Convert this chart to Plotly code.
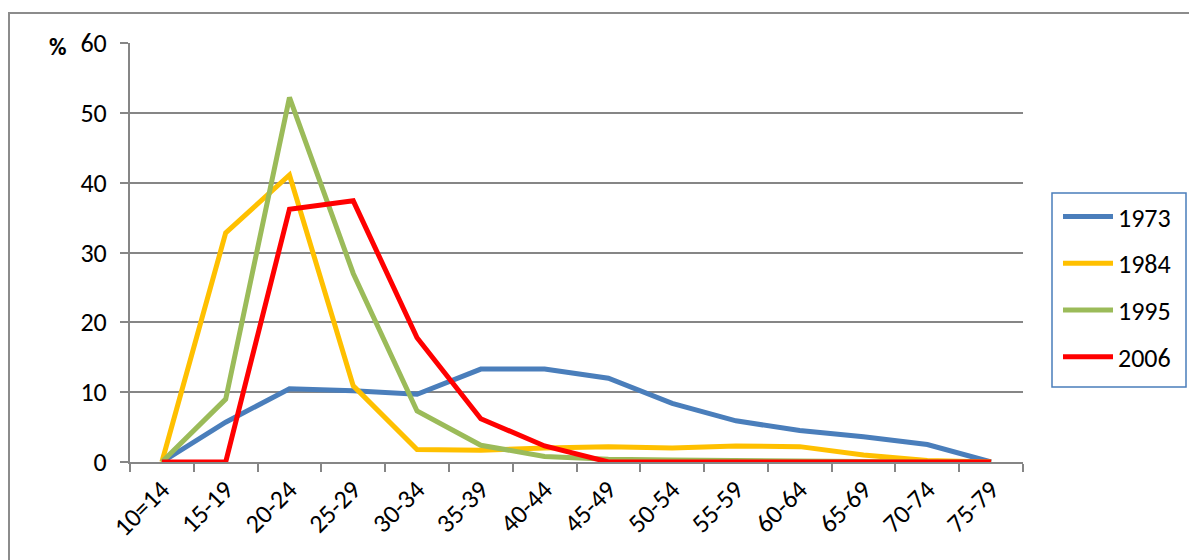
import plotly.graph_objects as go

# Age groups and share of births (%) by year
age_groups = ["10=14", "15-19", "20-24", "25-29", "30-34", "35-39", "40-44",
              "45-49", "50-54", "55-59", "60-64", "65-69", "70-74", "75-79"]

y1973 = [0, 5.7, 10.5, 10.2, 9.7, 13.3, 13.3, 12.0, 8.4, 5.9, 4.5, 3.6, 2.5, 0]
y1984 = [0, 32.8, 41.1, 10.9, 1.8, 1.7, 2.0, 2.2, 2.0, 2.3, 2.2, 1.0, 0.2, 0]
y1995 = [0, 9.0, 52.2, 27.0, 7.3, 2.4, 0.8, 0.4, 0.3, 0.2, 0.1, 0.05, 0, 0]
y2006 = [0, 0, 36.2, 37.4, 17.8, 6.2, 2.3, 0, 0, 0, 0, 0, 0, 0]

series = [
    ("1973", y1973, "#4a7ebb"),
    ("1984", y1984, "#ffc000"),
    ("1995", y1995, "#9bbb59"),
    ("2006", y2006, "#ff0000"),
]

FONT = "Calibri, Carlito, Lato, sans-serif"
GRID = "#868686"

fig = go.Figure()
for name, vals, color in series:
    fig.add_trace(go.Scatter(
        x=age_groups, y=vals, name=name, mode="lines",
        line=dict(color=color, width=5),
        legendgroup=name, cliponaxis=False,
    ))

W, H = 1189, 560
L, R, T, B = 130, 1023, 43, 462

def px_x(p):
    return (p - L) / (R - L)

def px_y(p):
    return (B - p) / (B - T)

fig.update_layout(
    width=W, height=H,
    margin=dict(l=L, r=W - R, t=T, b=H - B),
    paper_bgcolor="white", plot_bgcolor="white",
    font=dict(family=FONT, size=26, color="black"),
    xaxis=dict(
        type="category", range=[-0.5, 13.5],
        tickson="boundaries", ticks="outside", ticklen=8, tickcolor=GRID, tickwidth=2,
        showline=True, linecolor=GRID, linewidth=2,
        showgrid=False, tickangle=-45, tickfont=dict(size=26),
        fixedrange=True,
    ),
    yaxis=dict(
        range=[0, 60], dtick=10, tick0=0,
        ticks="outside", ticklen=8, tickcolor=GRID, tickwidth=2,
        showline=True, linecolor=GRID, linewidth=2,
        showgrid=True, gridcolor=GRID, gridwidth=2,
        zeroline=False, tickfont=dict(size=26), ticklabelstandoff=8,
    ),
    showlegend=True,
    legend=dict(
        x=px_x(1058), y=px_y(193), xanchor="left", yanchor="top",
        bgcolor="rgba(0,0,0,0)", borderwidth=0,
        font=dict(family=FONT, size=26), tracegroupgap=10,
        itemwidth=50,
    ),
    shapes=[
        # outer chart frame
        dict(type="rect", xref="paper", yref="paper",
             x0=px_x(9), x1=px_x(1210), y0=px_y(580), y1=px_y(13),
             line=dict(color="#8c8c8c", width=2), fillcolor="rgba(0,0,0,0)", layer="below"),
        # legend frame
        dict(type="rect", xref="paper", yref="paper",
             x0=px_x(1052), x1=px_x(1186), y0=px_y(387), y1=px_y(193),
             line=dict(color="#4a7ebb", width=1.5), fillcolor="rgba(0,0,0,0)"),
    ],
    annotations=[
        dict(text="<b>%</b>", xref="paper", yref="paper",
             x=px_x(58), y=px_y(46), xanchor="center", yanchor="middle",
             showarrow=False, font=dict(family=FONT, size=24)),
    ],
)

fig.write_html("out.html")
